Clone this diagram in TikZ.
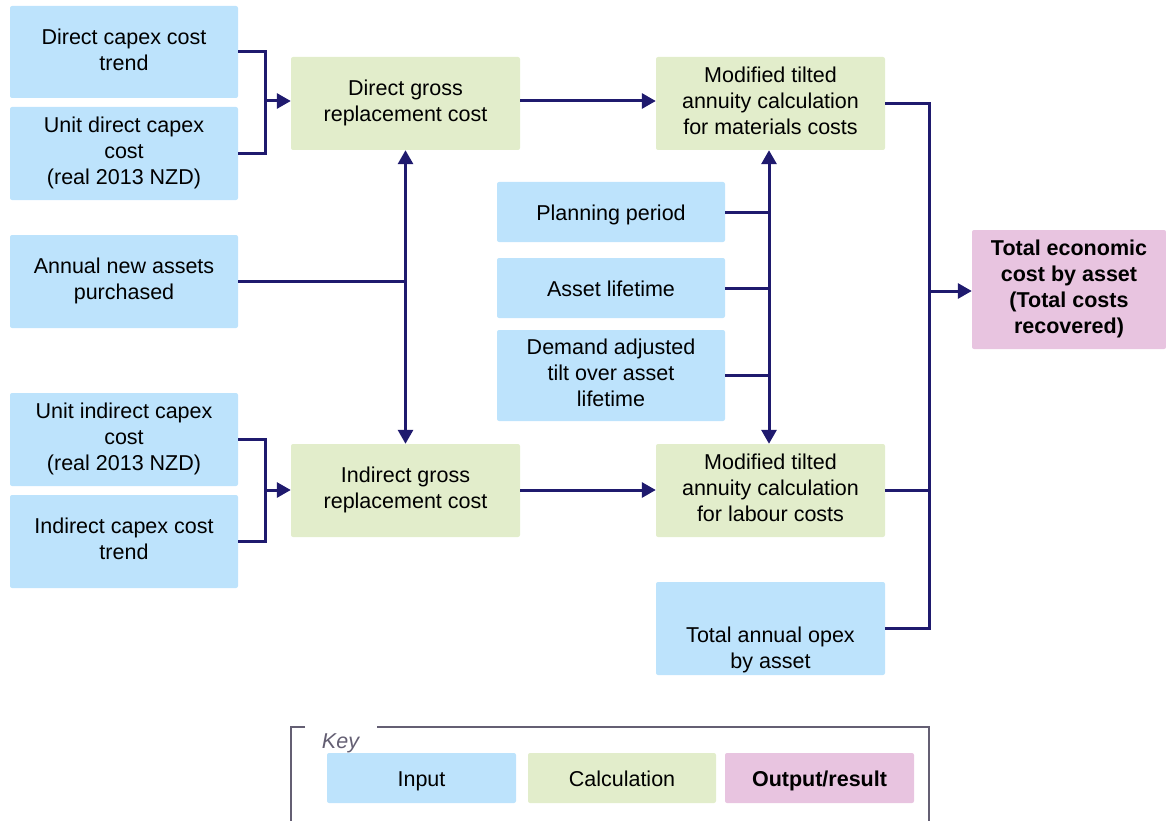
\documentclass[tikz,border=0pt]{standalone}
\usepackage{fontspec}
\setmainfont{Liberation Sans}
\usetikzlibrary{arrows.meta}
\definecolor{inblue}{RGB}{189,227,252}
\definecolor{calcgreen}{RGB}{226,237,203}
\definecolor{outpink}{RGB}{232,196,224}
\definecolor{navy}{RGB}{31,26,110}
\definecolor{keygray}{RGB}{100,95,115}
\begin{document}
\begin{tikzpicture}[x=1pt,y=-1pt,
  box/.style={rectangle,rounded corners=2pt,inner sep=0pt,align=center,
    font=\fontsize{21.5}{26}\selectfont,minimum width=228pt,minimum height=93pt,
    execute at begin node={\rule[-0.25em]{0pt}{1.25em}}},
  inbox/.style={box,fill=inblue},
  calcbox/.style={box,fill=calcgreen},
  outbox/.style={box,fill=outpink,font=\fontsize{21.5}{26}\selectfont\bfseries},
  conn/.style={navy,line width=3pt},
  arr/.style={conn,-{Triangle[length=14pt,width=15pt]}},
  darr/.style={conn,{Triangle[length=14pt,width=15pt]}-{Triangle[length=14pt,width=15pt]}}]
  \useasboundingbox (0,0) rectangle (1166,821);
  \node[inbox,minimum height=92pt] (dtrend) at (124,52) {Direct capex cost\\trend};
  \node[inbox] (udirect) at (124,153.5) {Unit direct capex\\cost\\(real 2013 NZD)};
  \node[inbox] (annual) at (124,281.5) {Annual new assets\\purchased};
  \node[inbox] (uindirect) at (124,439.5) {Unit indirect capex\\cost\\(real 2013 NZD)};
  \node[inbox] (itrend) at (124,541.5) {Indirect capex cost\\trend};
  \node[calcbox,minimum width=229pt] (dgrc) at (405.5,103.5) {Direct gross\\replacement cost};
  \node[calcbox,minimum width=229pt] (igrc) at (405.5,490.5) {Indirect gross\\replacement cost};
  \node[calcbox,minimum width=229pt] (matann) at (770.5,103.5) {Modified tilted\\annuity calculation\\for materials costs};
  \node[calcbox,minimum width=229pt] (labann) at (770.5,490.5) {Modified tilted\\annuity calculation\\for labour costs};
  \node[inbox,minimum height=60pt] (plan) at (611,212) {Planning period};
  \node[inbox,minimum height=60pt] (life) at (611,288) {Asset lifetime};
  \node[inbox,minimum height=91pt] (tilt) at (611,375.5) {Demand adjusted\\tilt over asset\\lifetime};
  \node[inbox,minimum width=229pt,
    label={[align=center,font=\fontsize{21.5}{26}\selectfont,yshift=-21pt]center:{Total annual opex\\by asset}}]
    (opex) at (770.5,628.5) {};
  \node[outbox,minimum width=194pt,minimum height=119pt] (total) at (1069,289.5)
    {Total economic\\cost by asset\\(Total costs\\recovered)};

  \coordinate (lj1) at (265,101);
  \coordinate (lj2) at (265,490);
  \coordinate (rj) at (929,291);
  \draw[conn] (dtrend.east) -| (lj1) |- (udirect.east);
  \draw[arr] (lj1) -- (lj1 -| dgrc.west);
  \draw[conn] (uindirect.east) -| (lj2) |- (itrend.east);
  \draw[arr] (lj2) -- (lj2 -| igrc.west);
  \draw[darr] (dgrc.south) -- (igrc.north);
  \draw[conn] (annual.east) -- (annual.east -| dgrc.south);
  \draw[arr] (dgrc.east |- lj1) -- (matann.west |- lj1);
  \draw[arr] (igrc.east |- lj2) -- (labann.west |- lj2);
  \draw[darr] ([xshift=-1.5pt]matann.south) -- ([xshift=-1.5pt]labann.north);
  \draw[conn] (plan.east) -- ([xshift=-1.5pt]plan.east -| matann.south);
  \draw[conn] (life.east) -- ([xshift=-1.5pt]life.east -| matann.south);
  \draw[conn] (tilt.east) -- ([xshift=-1.5pt]tilt.east -| matann.south);
  \draw[conn] (matann.east) -| (rj) |- (opex.east);
  \draw[conn] (labann.east) -- (labann.east -| rj);
  \draw[arr] (rj) -- (rj -| total.west);

  \draw[keygray,line width=1.5pt] (305,727) -- (291,727) -- (291,821);
  \draw[keygray,line width=1.5pt] (377,727) -- (929,727) -- (929,821);
  \node[font=\fontsize{21.5}{26}\selectfont\itshape,text=keygray,anchor=base] (keylbl) at (340.5,748) {Key};
  \node[inbox,minimum width=189pt,minimum height=50pt] (kinput) at (421.5,778) {Input};
  \node[calcbox,minimum width=188pt,minimum height=50pt] (kcalc) at (622,778) {Calculation};
  \node[outbox,minimum width=189pt,minimum height=50pt] (kout) at (819.5,778) {Output/result};
\end{tikzpicture}
\end{document}
